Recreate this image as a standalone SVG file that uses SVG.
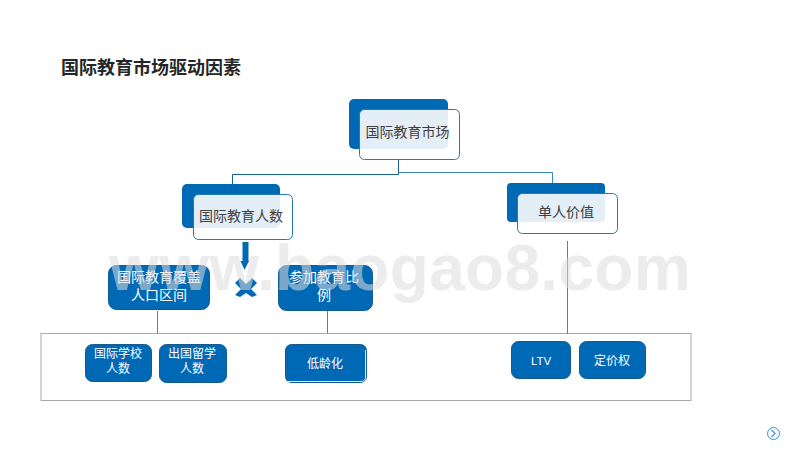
<svg xmlns="http://www.w3.org/2000/svg" width="800" height="450" viewBox="0 0 800 450">
<style>
text{font-family:"Liberation Sans","Noto Sans CJK SC",sans-serif;text-anchor:middle}
.back{fill:#0069b5}
.front{fill:#fff;fill-opacity:.89;stroke:#1f7ab5;stroke-width:1}
.dark{font-size:14px;fill:#404040}
.box{fill:#0069b5;stroke:#145a8c;stroke-width:1}
.w{fill:#fff}
.s13{font-size:14px}
.s11{font-size:12px}
.line{fill:none;stroke:#15608f;stroke-width:1}
.thin{fill:none;stroke:#3a87bd;stroke-width:1}
</style>
<rect width="800" height="450" fill="#fff"/>
<text id="title" x="151" y="74" style="font-size:18px;font-weight:700;fill:#262626">国际教育市场驱动因素</text>
<rect id="frame" x="41" y="333.500" width="650" height="67" fill="none" stroke="#aaa" stroke-width="1"/>
<g id="connectors">
<path class="line" d="M398.500 160V174.500H232.500V184"/>
<path class="thin" d="M398.500 172.500H552.500V184"/>
<path d="M245.500 242V262" stroke="#0069b5" stroke-width="6" fill="none"/>
<path d="M240.500 261H249L244.500 270Z" fill="#0069b5"/>
<path class="thin" d="M157.500 311V333"/>
<path class="thin" d="M327.500 311V333"/>
<path class="thin" d="M567.500 241V334"/>
</g>
<g id="node-market">
<rect class="back" x="349" y="99" width="99" height="50" rx="5"/>
<rect class="front" x="359.500" y="109.500" width="100" height="50" rx="5"/>
<text class="dark" x="407.500" y="137">国际教育市场</text>
</g>
<g id="node-people">
<rect class="back" x="182" y="184" width="98" height="44" rx="5"/>
<rect class="front" x="193.500" y="194.500" width="99" height="45" rx="5"/>
<text class="dark" x="241" y="221">国际教育人数</text>
</g>
<g id="node-value">
<rect class="back" x="507" y="183" width="98" height="39" rx="4"/>
<rect class="front" x="517.500" y="193.500" width="100" height="40" rx="5"/>
<text class="dark" x="566" y="217">单人价值</text>
</g>
<g id="node-range">
<rect class="box" x="108.500" y="265.500" width="101" height="44" rx="8"/>
<text class="w s13" x="159" y="282">国际教育覆盖</text>
<text class="w s13" x="159" y="300">人口区间</text>
</g>
<g id="node-multiply">
<path d="M240 278L246 284L252 278L257 283L251 289L257 295L252 297L246 293L240 297L235 295L241 289L235 283Z" fill="#0069b5"/>
</g>
<g id="node-ratio">
<rect class="box" x="278.500" y="265.500" width="94" height="45" rx="8"/>
<text class="w s13" x="324" y="282">参加教育比</text>
<text class="w s13" x="324" y="300">例</text>
</g>
<g id="node-school">
<rect class="box" x="85.500" y="344.500" width="66" height="37" rx="7"/>
<text class="w s11" x="118" y="358">国际学校</text>
<text class="w s11" x="118" y="373">人数</text>
</g>
<g id="node-abroad">
<rect class="box" x="159.500" y="344.500" width="67" height="38" rx="7"/>
<text class="w s11" x="192" y="358">出国留学</text>
<text class="w s11" x="192" y="373">人数</text>
</g>
<g id="node-young">
<rect x="285.500" y="344.500" width="81" height="38" rx="6" fill="#0069b5" stroke="#145a8c"/>
<path d="M288 381.500H361Q365.500 381.500 365.500 377V350" fill="none" stroke="#d8e8f4" stroke-width="1"/>
<text class="w s11" x="325" y="368">低龄化</text>
</g>
<g id="node-ltv">
<rect class="box" x="511.500" y="341.500" width="59" height="37" rx="7"/>
<text class="w" x="541" y="365" style="font-size:11.500px">LTV</text>
</g>
<g id="node-pricing">
<rect class="box" x="579.500" y="341.500" width="66" height="37" rx="7"/>
<text class="w s11" x="612" y="365">定价权</text>
</g>
<g id="next">
<circle cx="773.500" cy="433.500" r="6" fill="none" stroke="#3f8fc9" stroke-width="1"/>
<path d="M771.500 430L775 433.500L771.500 437" fill="none" stroke="#3f8fc9" stroke-width="1.200"/>
</g>
<text id="watermark" x="400" y="290" style="font-size:64px;font-weight:700;fill:#dcdcdc;fill-opacity:.55;letter-spacing:.3px">www.baogao8.com</text>
</svg>
